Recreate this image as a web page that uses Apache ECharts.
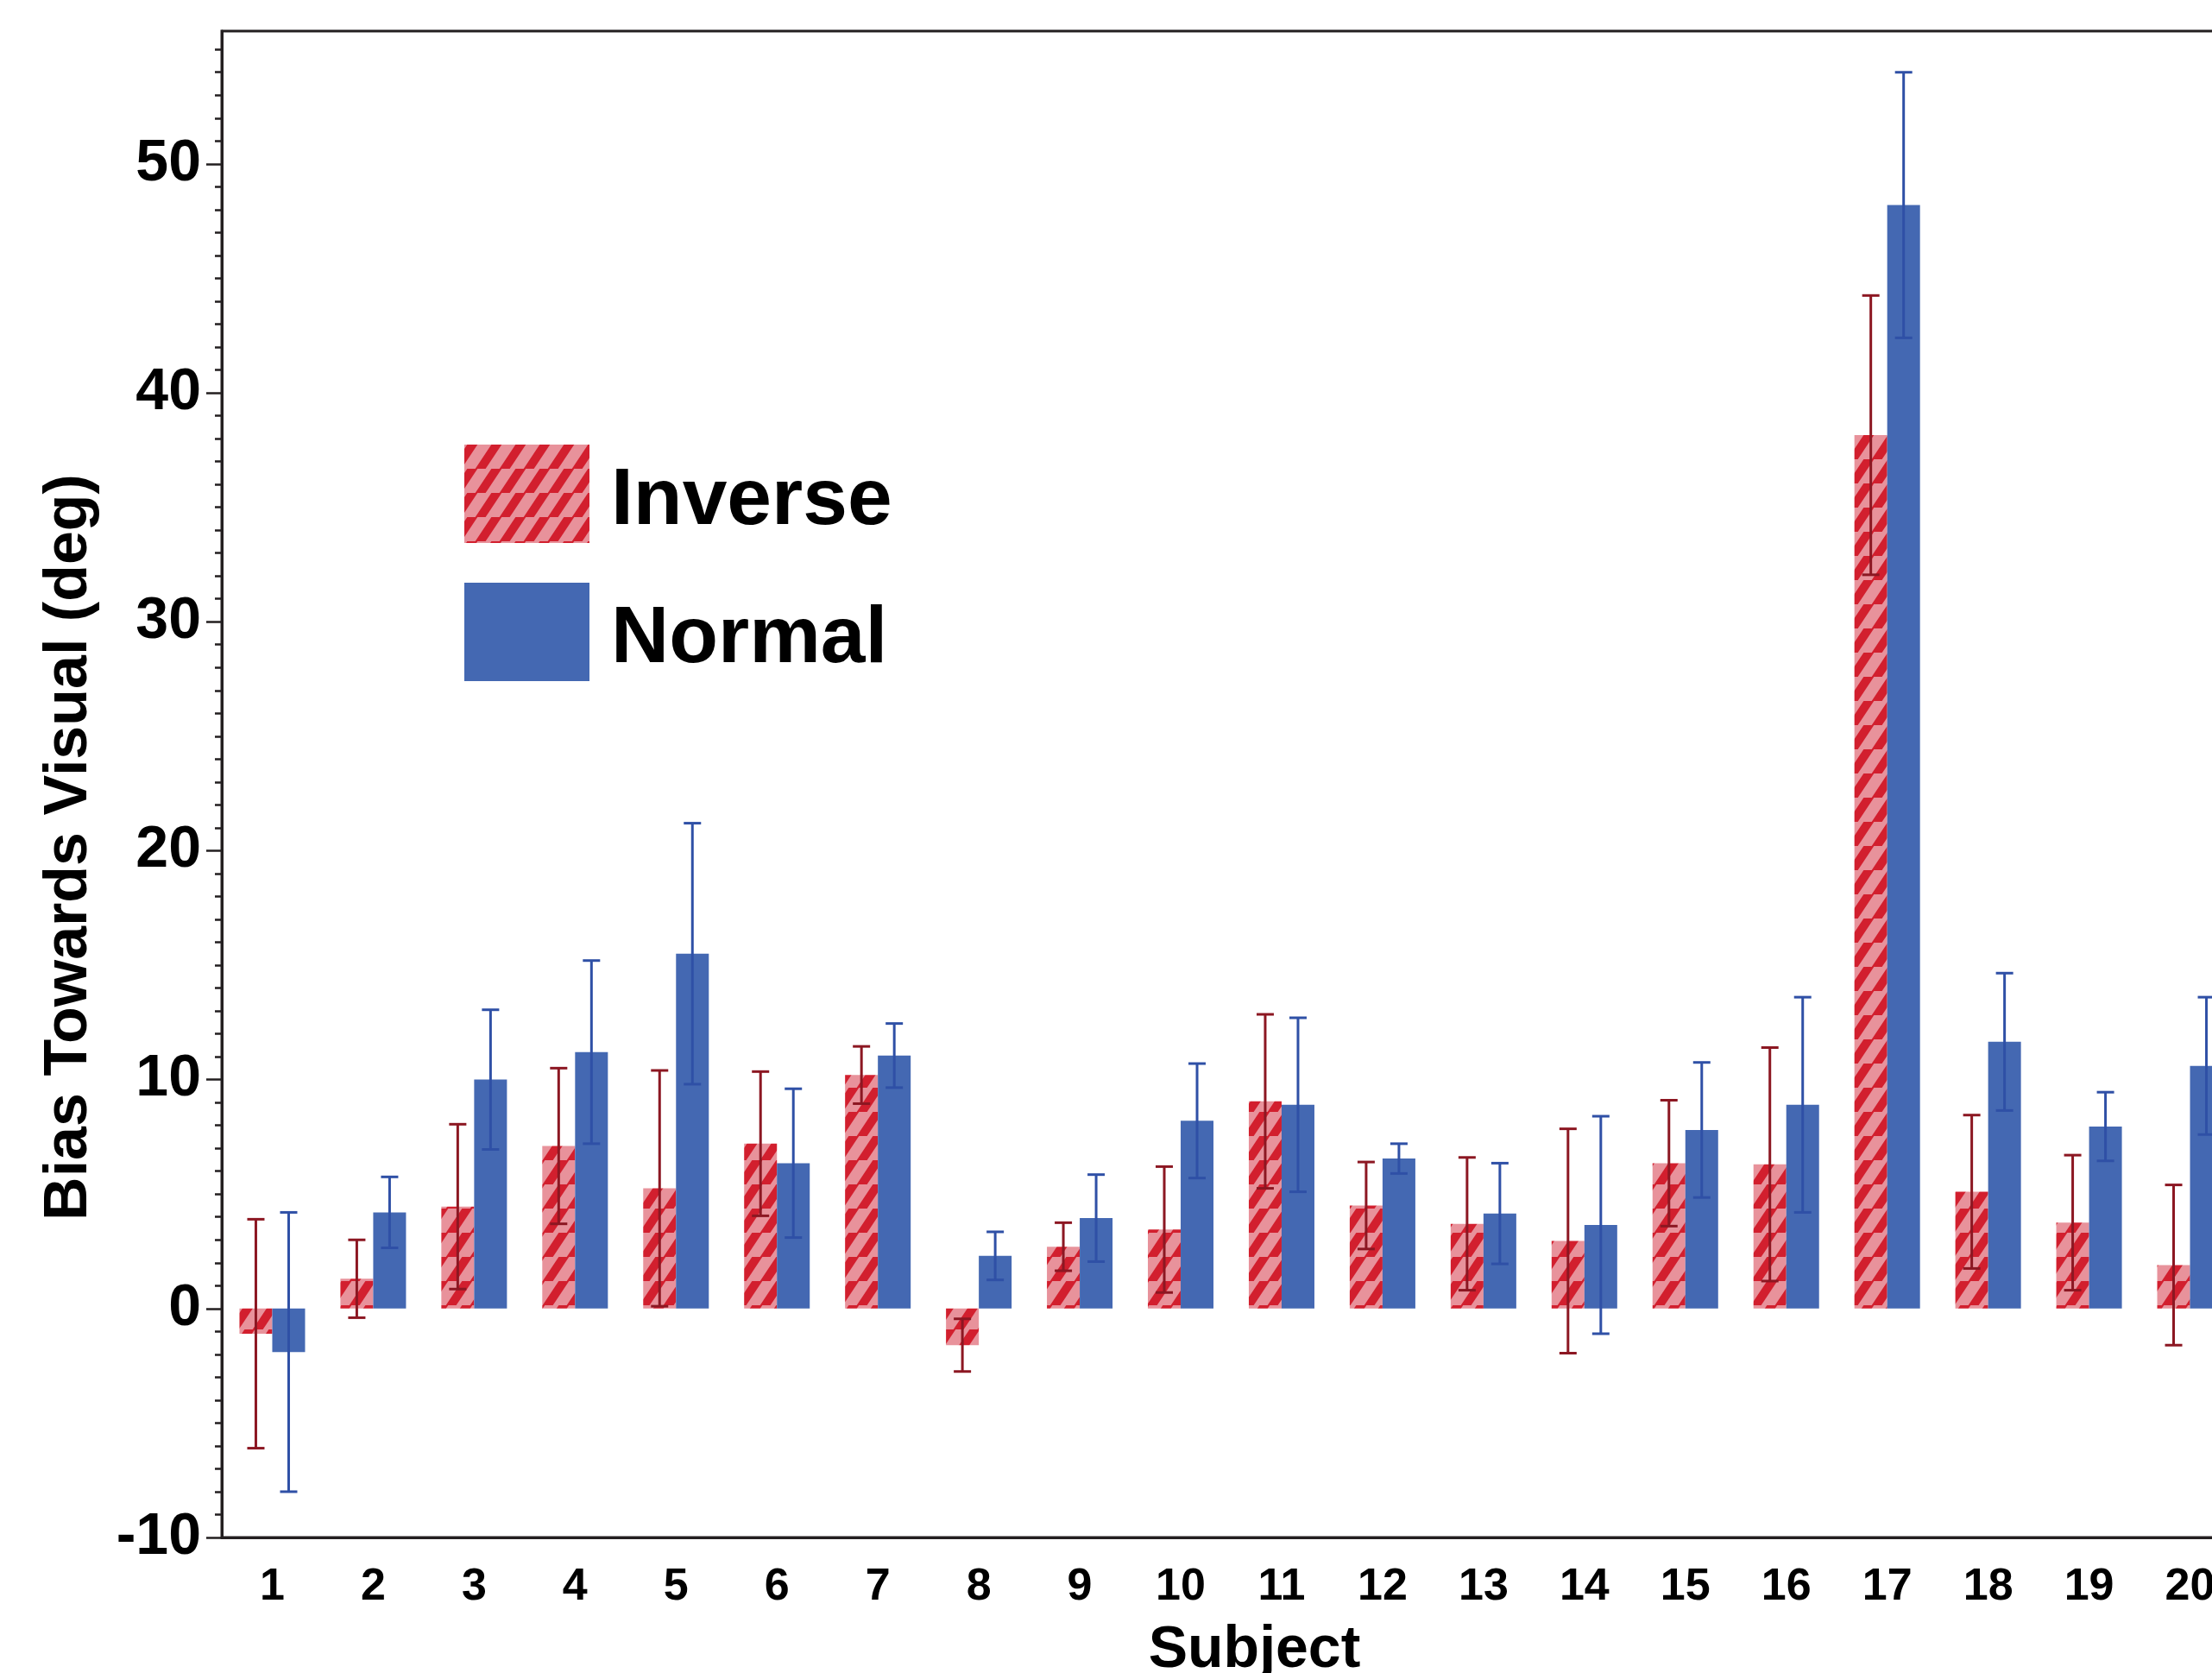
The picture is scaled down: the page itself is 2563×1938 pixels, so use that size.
<!DOCTYPE html>
<html>
<head>
<meta charset="utf-8">
<script src="https://cdn.jsdelivr.net/npm/echarts@6/dist/echarts.min.js"></script>
<style>
  html, body { margin: 0; padding: 0; background: #ffffff; overflow: hidden; }
  #chart { width: 2563px; height: 1938px; }
</style>
</head>
<body>
<div id="chart"></div>
<script>
// ---- data ----
const subjects = ['1','2','3','4','5','6','7','8','9','10','11','12','13','14','15','16','17','18','19','20'];
const inverseMean = [-1.1, 1.3, 4.45, 7.1, 5.25, 7.2, 10.2, -1.6, 2.7, 3.45, 9.05, 4.5, 3.7, 2.95, 6.35, 6.3, 38.15, 5.1, 3.75, 1.9];
const inverseErr  = [5.0, 1.7, 3.6, 3.4, 5.15, 3.15, 1.25, 1.15, 1.05, 2.75, 3.8, 1.9, 2.9, 4.9, 2.75, 5.1, 6.1, 3.35, 2.95, 3.5];
const normalMean  = [-1.9, 4.2, 10.0, 11.2, 15.5, 6.35, 11.05, 2.3, 3.95, 8.2, 8.9, 6.55, 4.15, 3.65, 7.8, 8.9, 48.2, 11.65, 7.95, 10.6];
const normalErr   = [6.1, 1.55, 3.05, 4.0, 5.7, 3.25, 1.4, 1.05, 1.9, 2.5, 3.8, 0.65, 2.2, 4.75, 2.95, 4.7, 5.8, 3.0, 1.5, 3.0];
const majorTicks  = [-10, 0, 10, 20, 30, 40, 50];
const minorTicks  = [-10,-9,-8,-7,-6,-5,-4,-3,-2,-1,0,1,2,3,4,5,6,7,8,9,10,11,12,13,14,15,16,17,18,19,20,
                     21,22,23,24,25,26,27,28,29,30,31,32,33,34,35,36,37,38,39,40,41,42,43,44,45,46,47,48,49,50,
                     51,52,53,54,55];
const seriesNames = ['Inverse', 'Normal'];

// ---- styles ----
const FONT = 'Liberation Sans, Arial, Helvetica, sans-serif';
const AXIS_COLOR = '#231f20';
const BLUE = '#4468b2';
const BLUE_ERR = '#2f50a6';
const RED_ERR = '#8c1722';
const BAR_FRAC = 0.325;

function makeStripePattern() {
  const P = 28;
  const c = document.createElement('canvas');
  c.width = P; c.height = P;
  const g = c.getContext('2d');
  g.fillStyle = '#e8929b';
  g.fillRect(0, 0, P, P);
  g.strokeStyle = '#d21f2e';
  g.lineWidth = P / (2 * Math.SQRT2);
  g.lineCap = 'square';
  for (let k = -1; k <= 2; k++) {
    g.beginPath();
    g.moveTo(k * P - P, P + P);
    g.lineTo(k * P + P, 0 - P);
    g.stroke();
  }
  return c;
}
const stripe = { image: makeStripePattern(), repeat: 'repeat' };

function errData(mean, err) {
  return mean.map((m, i) => [i, m - err[i], m + err[i]]);
}

function errRenderer(sign, color) {
  return function (params, api) {
    const band = api.size([1, 0])[0];
    const off = sign * band * BAR_FRAC / 2;
    const idx = api.value(0);
    const lo = api.coord([idx, api.value(1)]);
    const hi = api.coord([idx, api.value(2)]);
    const x = lo[0] + off;
    const cap = 10;
    const st = { stroke: color, lineWidth: 3 };
    return {
      type: 'group',
      children: [
        { type: 'line', shape: { x1: x, y1: lo[1], x2: x, y2: hi[1] }, style: st },
        { type: 'line', shape: { x1: x - cap, y1: hi[1], x2: x + cap, y2: hi[1] }, style: st },
        { type: 'line', shape: { x1: x - cap, y1: lo[1], x2: x + cap, y2: lo[1] }, style: st }
      ]
    };
  };
}

const chart = echarts.init(document.getElementById('chart'), null, { renderer: 'canvas' });
chart.setOption({
  animation: false,
  backgroundColor: '#ffffff',
  textStyle: { fontFamily: FONT },
  grid: {
    left: 257, top: 36, width: 2339, height: 1745,
    outerBoundsMode: 'none',
    containLabel: false,
    show: true, borderColor: AXIS_COLOR, borderWidth: 3, backgroundColor: 'transparent'
  },
  legend: {
    data: seriesNames,
    orient: 'vertical',
    left: 538, top: 515,
    padding: 0,
    itemWidth: 145, itemHeight: 114, itemGap: 46,
    icon: 'rect',
    selectedMode: false,
    formatter: function (name) { return '{t|' + name + '}'; },
    textStyle: {
      fontSize: 93, fontWeight: 'bold', color: '#000', fontFamily: FONT, padding: [0, 0, 0, 20],
      rich: {
        t: { fontSize: 93, fontWeight: 'bold', color: '#000', fontFamily: FONT, lineHeight: 112, verticalAlign: 'bottom' }
      }
    }
  },
  xAxis: {
    type: 'category',
    data: subjects,
    name: 'Subject',
    nameLocation: 'middle',
    nameGap: 97,
    nameTextStyle: { fontSize: 68, fontWeight: 'bold', color: '#000', fontFamily: FONT, padding: [0, 0, 0, 54] },
    axisLine: { onZero: false, lineStyle: { color: AXIS_COLOR, width: 3 } },
    axisTick: { alignWithLabel: true, length: 16, lineStyle: { color: AXIS_COLOR, width: 2.5 } },
    axisLabel: { interval: 0, fontSize: 52, fontWeight: 'bold', color: '#000', margin: 32, fontFamily: FONT },
    splitLine: { show: false }
  },
  yAxis: [
    {
      type: 'value',
      min: -10, max: 55.8,
      position: 'left',
      name: 'Bias Towards Visual (deg)',
      nameLocation: 'middle',
      nameGap: 141,
      nameRotate: 90,
      nameTextStyle: { fontSize: 70, fontWeight: 'bold', color: '#000', fontFamily: FONT, padding: [0, 146, 0, 0] },
      axisLine: { show: true, onZero: false, lineStyle: { color: AXIS_COLOR, width: 3 } },
      axisTick: { show: true, customValues: majorTicks, length: 18, lineStyle: { color: AXIS_COLOR, width: 2.5 } },
      axisLabel: { customValues: majorTicks, fontSize: 68, fontWeight: 'bold', color: '#000', margin: 24, fontFamily: FONT },
      splitLine: { show: false }
    },
    {
      type: 'value',
      min: -10, max: 55.8,
      position: 'left',
      axisLine: { show: false, onZero: false },
      axisTick: { show: true, customValues: minorTicks, length: 8, lineStyle: { color: AXIS_COLOR, width: 2.5 } },
      axisLabel: { show: false },
      splitLine: { show: false }
    }
  ],
  series: [
    {
      name: 'Inverse', type: 'bar', data: inverseMean,
      barWidth: (BAR_FRAC * 100) + '%', barGap: '0%',
      itemStyle: { color: stripe }
    },
    {
      name: 'Normal', type: 'bar', data: normalMean,
      barWidth: (BAR_FRAC * 100) + '%', barGap: '0%',
      itemStyle: { color: BLUE }
    },
    {
      name: 'InverseErr', type: 'custom', data: errData(inverseMean, inverseErr),
      encode: { x: 0, y: [1, 2] }, z: 5,
      renderItem: errRenderer(-1, RED_ERR)
    },
    {
      name: 'NormalErr', type: 'custom', data: errData(normalMean, normalErr),
      encode: { x: 0, y: [1, 2] }, z: 5,
      renderItem: errRenderer(1, BLUE_ERR)
    }
  ]
});
</script>
</body>
</html>
